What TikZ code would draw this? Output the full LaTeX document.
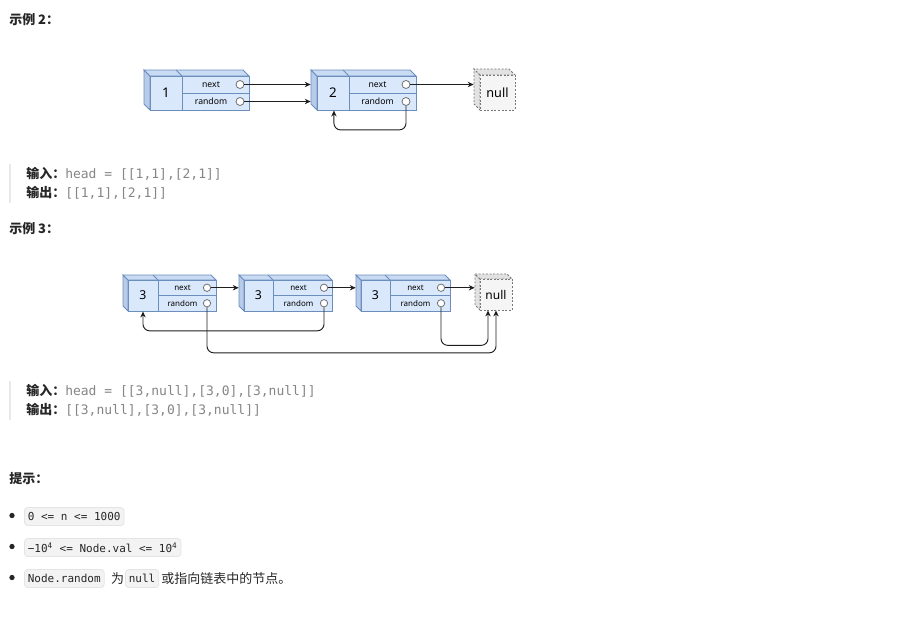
\documentclass[tikz,border=0pt]{standalone}
\usepackage{fontspec}
\setmainfont{Noto Sans}
\setmonofont{DejaVu Sans Mono}
\newfontfamily\cjk{Noto Sans CJK SC}
\usetikzlibrary{fit,arrows.meta}
\definecolor{nodefill}{HTML}{DAE8FC}
\definecolor{nodeborder}{HTML}{6C8EBF}
\definecolor{topfill}{HTML}{C9DAF3}
\definecolor{sidefill}{HTML}{B8CCEA}
\definecolor{nullfill}{HTML}{F5F5F5}
\definecolor{nullside}{HTML}{E2E2E2}
\definecolor{nullborder}{HTML}{777777}
\definecolor{ptrborder}{HTML}{6F6F6F}
\definecolor{txt}{HTML}{262626}
\definecolor{quotetxt}{HTML}{858585}
\definecolor{quotebar}{HTML}{E8E8E8}
\definecolor{codefill}{HTML}{F3F3F3}
\definecolor{codeborder}{HTML}{E4E4E4}
\definecolor{arrcol}{HTML}{1E1E1E}
\tikzset{
  nodeline/.style={draw=nodeborder, line width=0.7pt},
  sideface/.style={nodeline, fill=sidefill},
  topface/.style={nodeline, fill=topfill},
  frontface/.style={nodeline, fill=nodefill, inner sep=0pt},
  cell/.style={nodeline, inner sep=0pt},
  valtext/.style={inner sep=0pt, font=\fontsize{10pt}{11pt}\selectfont, text=black},
  fieldtext/.style={inner sep=0pt, font=\fontsize{6.5pt}{7pt}\selectfont, text=black},
  ptr/.style={circle, draw=ptrborder, fill=white, line width=0.6pt, minimum size=6pt, inner sep=0pt},
  nullline/.style={draw=nullborder, line width=0.6pt, dash pattern=on 1.5pt off 1.2pt},
  nullfront/.style={nullline, fill=nullfill, inner sep=0pt},
  nullsidef/.style={nullline, fill=nullside},
  nulltext/.style={inner sep=0pt, font=\fontsize{9.5pt}{10pt}\selectfont, text=black},
  arr/.style={draw=arrcol, line width=0.7pt, -{Stealth[length=4.5pt,width=4pt]}},
  head/.style={anchor=west, inner sep=0pt, text=txt, font=\cjk\bfseries\fontsize{9.75pt}{12pt}\selectfont},
  qline/.style={anchor=west, inner sep=0pt, text=quotetxt, font=\fontsize{9.75pt}{12pt}\selectfont},
  qbar/.style={draw=quotebar, line width=1.5pt},
  codebox/.style={draw=codeborder, fill=codefill, rounded corners=2.5pt, line width=0.6pt, inner xsep=2.6pt, inner ysep=0pt, minimum height=13.5pt, text=txt, font=\ttfamily\fontsize{8.25pt}{10pt}\selectfont},
  body/.style={inner sep=0pt, text=txt, font=\cjk\fontsize{9.75pt}{12pt}\selectfont},
  bullet/.style={circle, fill=txt, inner sep=0pt, minimum size=4pt},
}
% #1 name, #2 x0, #3 y0, #4 x1, #5 y1, #6 divider x, #7 depth, #8 value, #9 pointer x
\newcommand\listnode[9]{%
  \pgfmathsetmacro\lnmid{(#3+#5)/2}%
  \pgfmathsetmacro\lnnexty{(#3+\lnmid)/2}%
  \pgfmathsetmacro\lnrandy{(\lnmid+#5)/2}%
  \pgfmathsetmacro\lnlabx{(#6+#9)/2}%
  \filldraw[sideface] (#2,#3) -- (#2-#7,#3-#7) -- (#2-#7,#5-#7) -- (#2,#5) -- cycle;
  \filldraw[topface] (#2,#3) -- (#2-#7,#3-#7) -- (#4-#7,#3-#7) -- (#4,#3) -- cycle;
  \draw[nodeline] (#6,#3) -- (#6-#7,#3-#7);
  \node[frontface, fit={(#2,#3) (#4,#5)}] (#1) {};
  \node[inner sep=0pt, fit={(#2-#7,#3-#7) (#4,#5)}] (#1all) {};
  \node[cell, fit={(#2,#3) (#6,#5)}] (#1v) {};
  \node[cell, fit={(#6,#3) (#4,\lnmid)}] (#1n) {};
  \node[cell, fit={(#6,\lnmid) (#4,#5)}] (#1r) {};
  \node[valtext] (#1vt) at (#1v.center) {#8};
  \node[fieldtext] (#1nt) at (\lnlabx,\lnnexty) {next};
  \node[fieldtext] (#1rt) at (\lnlabx,\lnrandy) {random};
  \node[ptr] (#1nc) at (#9,\lnnexty) {};
  \node[ptr] (#1rc) at (#9,\lnrandy) {};
}
% #1 name, #2 x0, #3 y0, #4 x1, #5 y1, #6 depth
\newcommand\nullnode[6]{%
  \filldraw[nullsidef] (#2,#3) -- (#2-#6,#3-#6) -- (#2-#6,#5-#6) -- (#2,#5) -- cycle;
  \filldraw[nullsidef] (#2,#3) -- (#2-#6,#3-#6) -- (#4-#6,#3-#6) -- (#4,#3) -- cycle;
  \node[nullfront, fit={(#2,#3) (#4,#5)}] (#1) {};
  \node[inner sep=0pt, fit={(#2-#6,#3-#6) (#4,#5)}] (#1all) {};
  \node[nulltext] (#1t) at (#1.center) {null};
}
\begin{document}
\begin{tikzpicture}[x=0.75pt, y=-0.75pt]
\useasboundingbox (0,0) rectangle (910,625);

% ---------- Example 2 ----------
\node[head] (h2) at (9,20) {示例 2：};
\listnode{pa}{150}{76}{249}{110}{182}{6}{1}{240}
\listnode{pb}{317}{76}{416}{110}{349}{6}{2}{406}
\nullnode{na}{480}{75}{515}{110}{6}
\draw[arr] (panc.east) -- (panc.east -| pball.west);
\draw[arr] (parc.east) -- (parc.east -| pball.west);
\draw[arr] (pbnc.east) -- (pbnc.east -| naall.west);
\draw[arr, rounded corners=5pt] (pbrc.south) -- ++(0,24) -| ([xshift=0.7pt]pbv.south);

\draw[qbar] (10,164) -- (10,203);
\node[qline] (in2) at (26,174) {{\cjk\bfseries\color{txt}输入：}\ttfamily head = [[1,1],[2,1]]};
\node[qline] (out2) at (26,193) {{\cjk\bfseries\color{txt}输出：}\ttfamily [[1,1],[2,1]]};

% ---------- Example 3 ----------
\node[head] (h3) at (9,229) {示例 3：};
\begin{scope}[fieldtext/.append style={font=\fontsize{6pt}{6.5pt}\selectfont},
              valtext/.append style={font=\fontsize{9.2pt}{10pt}\selectfont},
              ptr/.append style={minimum size=5.5pt}]
\listnode{qa}{128}{280}{216}{311}{158}{5}{3}{207}
\listnode{qb}{244}{280}{332}{311}{273}{5}{3}{324}
\listnode{qc}{361}{280}{450}{311}{390}{5}{3}{441}
\end{scope}
\begin{scope}[nulltext/.append style={font=\fontsize{9pt}{10pt}\selectfont}]
\nullnode{nb}{480}{279}{512}{310}{5}
\end{scope}
\draw[arr] (qanc.east) -- (qanc.east -| qball.west);
\draw[arr] (qbnc.east) -- (qbnc.east -| qcall.west);
\draw[arr] (qcnc.east) -- (qcnc.east -| nball.west);
\draw[arr, rounded corners=5pt] (qbrc.south) -- ++(0,23.5) -| (qav.south);
\draw[arr, rounded corners=5pt] (qcrc.south) -- ++(0,38) -| ([xshift=-6pt]nb.south);
\draw[arr, rounded corners=5pt] (qarc.south) -- ++(0,45.5) -| ([xshift=0pt]nb.south);

\draw[qbar] (10,381) -- (10,420);
\node[qline] (in3) at (26,391) {{\cjk\bfseries\color{txt}输入：}\ttfamily head = [[3,null],[3,0],[3,null]]};
\node[qline] (out3) at (26,410) {{\cjk\bfseries\color{txt}输出：}\ttfamily [[3,null],[3,0],[3,null]]};

% ---------- Hints ----------
\node[head] (tip) at (9,479) {提示：};
\node[bullet] (b1) at (12,515.5) {};
\node[bullet] (b2) at (12,546.5) {};
\node[bullet] (b3) at (12,577.5) {};
\node[codebox, anchor=west] (c1) at (24,516.5) {0 <= n <= 1000};
\node[codebox, anchor=west] (c2) at (24,547.5) {−10\textsuperscript{4} <= Node.val <= 10\textsuperscript{4}};
\node[codebox, anchor=west] (c3) at (24,578.5) {Node.random};
\node[body] (w1) at (117.5,578.5) {为};
\node[codebox, anchor=west] (c4) at (125,578.5) {null};
\node[body, anchor=west] (w2) at (161,578.5) {或指向链表中的节点。};
\end{tikzpicture}
\end{document}
